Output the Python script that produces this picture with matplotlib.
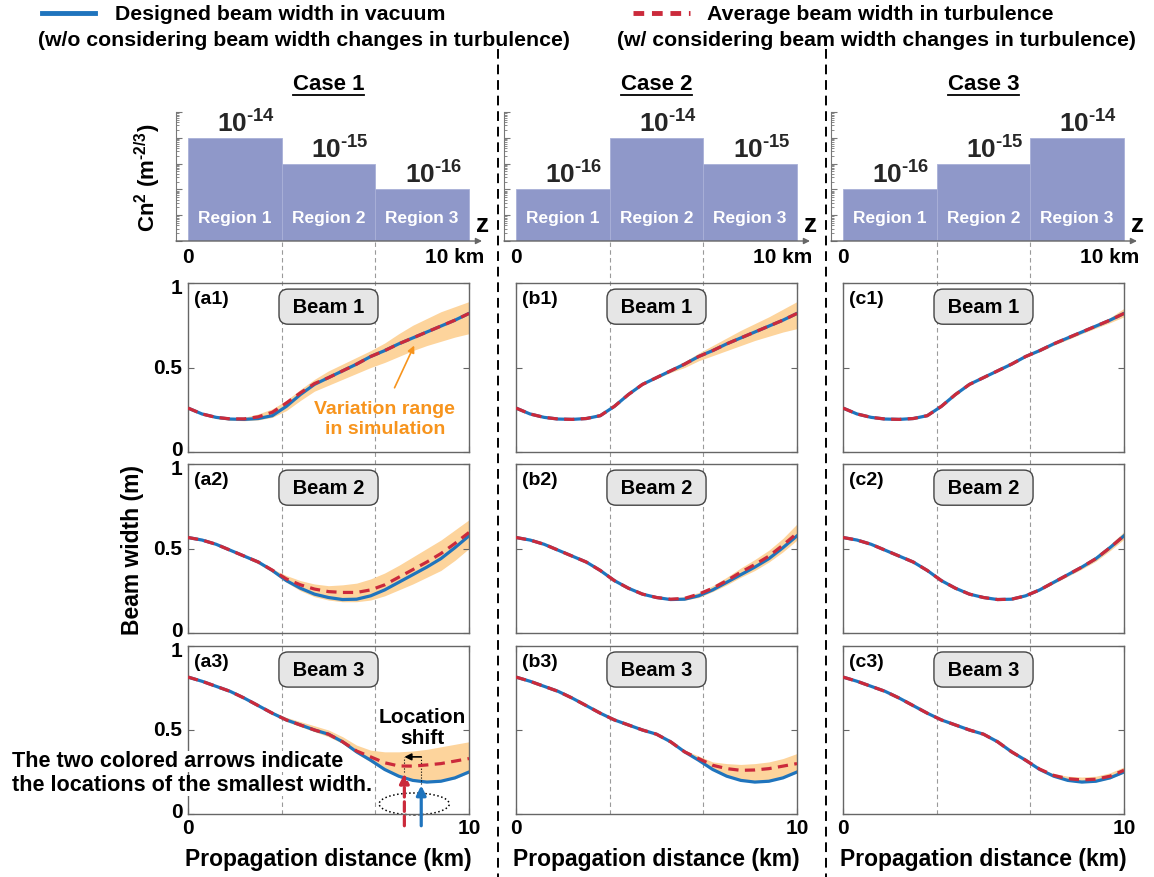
import matplotlib
matplotlib.use('Agg')
import matplotlib.pyplot as plt
from matplotlib.lines import Line2D
from matplotlib.patches import Ellipse
from matplotlib import transforms
from matplotlib.ticker import LogLocator, NullFormatter

plt.rcParams['font.family'] = ['Liberation Sans', 'DejaVu Sans']
plt.rcParams['font.weight'] = 'bold'
plt.rcParams['mathtext.fontset'] = 'custom'
plt.rcParams['mathtext.rm'] = 'Liberation Sans:bold'
plt.rcParams['mathtext.bf'] = 'Liberation Sans:bold'
plt.rcParams['mathtext.it'] = 'Liberation Sans:bold'
plt.rcParams['mathtext.default'] = 'bf'

# ---------------- data ----------------
cases = ['Case 1', 'Case 2', 'Case 3']
regions = ['Region 1', 'Region 2', 'Region 3']
region_start = [0, 10 / 3, 20 / 3]
cn2_case1 = [1e-14, 1e-15, 1e-16]
cn2_case2 = [1e-16, 1e-14, 1e-15]
cn2_case3 = [1e-16, 1e-15, 1e-14]
cn2_exp1 = ['-14', '-15', '-16']
cn2_exp2 = ['-16', '-14', '-15']
cn2_exp3 = ['-16', '-15', '-14']
yticks = [0, 0.5, 1]
ytick_labels = ['0', '0.5', '1']

z = [0, 0.5, 1, 1.5, 2, 2.5, 3, 3.5, 4, 4.5, 5, 5.5, 6, 6.5, 7, 7.5, 8, 8.5, 9, 9.5, 10]

# designed width in vacuum (same for every case)
vac1 = [.26, .225, .205, .195, .193, .198, .215, .27, .34, .40, .44, .48, .52, .565, .60, .64, .675, .71, .745, .78, .82]
vac2 = [.565, .55, .525, .49, .455, .42, .37, .31, .265, .23, .21, .198, .20, .22, .255, .30, .345, .39, .44, .505, .575]
vac3 = [.815, .79, .76, .73, .69, .645, .60, .56, .53, .50, .475, .43, .37, .32, .265, .225, .20, .19, .195, .215, .25]

# average width in turbulence
t_a1 = [.26, .225, .205, .196, .196, .208, .235, .29, .35, .405, .44, .48, .52, .565, .60, .64, .675, .71, .745, .78, .82]
t_a2 = [.565, .55, .525, .49, .455, .42, .372, .32, .285, .26, .245, .24, .24, .255, .285, .33, .375, .42, .47, .53, .595]
t_a3 = [.815, .79, .76, .73, .69, .645, .60, .56, .53, .50, .475, .43, .375, .34, .305, .286, .285, .292, .30, .315, .33]
t_b1 = vac1
t_b2 = [.565, .55, .525, .49, .455, .42, .37, .31, .265, .23, .21, .20, .205, .23, .265, .31, .36, .405, .455, .52, .59]
t_b3 = [.815, .79, .76, .73, .69, .645, .60, .56, .53, .50, .475, .43, .37, .33, .29, .27, .26, .262, .27, .285, .30]
t_c1 = vac1
t_c2 = vac2
t_c3 = [.815, .79, .76, .73, .69, .645, .60, .56, .53, .50, .475, .43, .37, .32, .267, .23, .21, .203, .207, .225, .26]

# variation range in simulation (low / high)
lo_a1 = [.255, .22, .198, .188, .185, .19, .205, .245, .305, .36, .395, .43, .465, .50, .53, .565, .60, .63, .655, .68, .70]
hi_a1 = [.265, .228, .21, .20, .205, .225, .255, .305, .37, .43, .48, .52, .56, .60, .645, .70, .75, .79, .83, .86, .89]
lo_a2 = [.565, .548, .52, .485, .448, .41, .36, .30, .25, .215, .195, .185, .185, .195, .22, .255, .29, .33, .37, .43, .50]
hi_a2 = [.565, .552, .53, .495, .462, .43, .38, .34, .31, .29, .28, .285, .295, .32, .355, .40, .45, .50, .55, .61, .67]
lo_a3 = [.815, .79, .758, .727, .686, .64, .595, .55, .52, .49, .46, .42, .36, .31, .26, .22, .195, .188, .195, .21, .245]
hi_a3 = [.815, .79, .762, .735, .695, .652, .61, .575, .55, .525, .50, .46, .41, .38, .37, .37, .375, .385, .40, .415, .43]
lo_b1 = [.26, .225, .205, .195, .193, .198, .215, .27, .34, .398, .435, .47, .50, .54, .57, .60, .63, .66, .685, .71, .73]
hi_b1 = [.26, .225, .205, .195, .193, .198, .215, .27, .34, .402, .45, .49, .535, .585, .63, .675, .72, .76, .80, .845, .89]
lo_b2 = [.565, .55, .525, .49, .455, .42, .37, .31, .265, .228, .207, .195, .195, .21, .245, .285, .33, .37, .42, .48, .55]
hi_b2 = [.565, .55, .525, .49, .455, .42, .37, .31, .265, .232, .215, .205, .215, .24, .28, .33, .385, .435, .49, .56, .645]
lo_b3 = [.815, .79, .76, .73, .69, .645, .60, .56, .53, .50, .475, .43, .368, .318, .265, .225, .20, .19, .195, .213, .245]
hi_b3 = [.815, .79, .76, .73, .69, .645, .60, .56, .53, .50, .475, .432, .38, .345, .31, .30, .295, .30, .31, .33, .36]
lo_c1 = [.26, .225, .205, .195, .193, .198, .215, .27, .34, .40, .44, .48, .517, .56, .594, .632, .665, .70, .733, .765, .80]
hi_c1 = [.26, .225, .205, .195, .193, .198, .215, .27, .34, .40, .44, .48, .523, .57, .606, .648, .685, .72, .757, .795, .85]
lo_c2 = [.565, .55, .525, .49, .455, .42, .37, .31, .265, .23, .21, .198, .20, .218, .25, .293, .335, .378, .425, .487, .555]
hi_c2 = [.565, .55, .525, .49, .455, .42, .37, .31, .265, .23, .21, .198, .20, .222, .26, .307, .355, .402, .455, .523, .60]
lo_c3 = [.815, .79, .76, .73, .69, .645, .60, .56, .53, .50, .475, .43, .37, .32, .263, .222, .197, .187, .192, .21, .245]
hi_c3 = [.815, .79, .76, .73, .69, .645, .60, .56, .53, .50, .475, .43, .37, .322, .27, .24, .225, .22, .225, .245, .28]

vac = [vac1, vac2, vac3]
cn2 = [cn2_case1, cn2_case2, cn2_case3]
cn2_exp = [cn2_exp1, cn2_exp2, cn2_exp3]
turb = [[t_a1, t_a2, t_a3], [t_b1, t_b2, t_b3], [t_c1, t_c2, t_c3]]
band_lo = [[lo_a1, lo_a2, lo_a3], [lo_b1, lo_b2, lo_b3], [lo_c1, lo_c2, lo_c3]]
band_hi = [[hi_a1, hi_a2, hi_a3], [hi_b1, hi_b2, hi_b3], [hi_c1, hi_c2, hi_c3]]
panel_tags = [['(a1)', '(a2)', '(a3)'], ['(b1)', '(b2)', '(b3)'], ['(c1)', '(c2)', '(c3)']]

# ---------------- style ----------------
BLUE = '#1f74bd'
RED = '#cb2a3b'
BAND = '#fdd49c'
ORANGE = '#f7941d'
BAR = '#8f98c9'
SPINE = '#666666'
HYPHEN = '\u2010'

W, H = 1154, 878
fig = plt.figure(figsize=(W / 100, H / 100), dpi=100)


def rect(x0, y0, x1, y1):
    # pixel box -> figure fraction
    return [x0 / W, 1 - y1 / H, (x1 - x0) / W, (y1 - y0) / H]


col_x0 = [188, 516, 843]
col_w = 281
rows_y = [(284, 453), (465, 634), (647, 815)]
px_per_km = col_w / 10
# small vertical nudge (points) of the y tick labels so 0 and 1 of stacked panels don't collide
ylab_shift = [1.5, 0, -3]

for c in range(3):
    x0 = col_x0[c]

    # ---- Cn2 profile ----
    tl = x0 - 12
    tr = tl + 306
    axt = fig.add_axes(rect(tl, 113, tr, 242))
    axt.set_facecolor('none')
    axt.bar(region_start, cn2[c], width=10 / 3, align='edge', bottom=1e-18,
            color=BAR, edgecolor='#a9b0d8', linewidth=0.6)
    axt.set_yscale('log')
    axt.set_ylim(1e-18, 1e-13)
    axt.set_xlim(-12 / px_per_km, 10 + (tr - tl - 12 - col_w) / px_per_km)
    axt.yaxis.set_major_locator(LogLocator(base=10, numticks=20))
    axt.yaxis.set_minor_locator(LogLocator(base=10, subs=[2, 3, 4, 5, 6, 7, 8, 9], numticks=100))
    axt.yaxis.set_minor_formatter(NullFormatter())
    for s in ['top', 'right', 'bottom']:
        axt.spines[s].set_visible(False)
    axt.spines['left'].set_color('#777777')
    axt.set_xticks([])
    axt.tick_params(axis='y', which='both', direction='in', colors='#777777',
                    labelleft=False)
    axt.tick_params(axis='y', which='major', length=4)
    axt.tick_params(axis='y', which='minor', length=2, width=0.6)
    axt.annotate('', xy=(1, 0), xytext=(0, 0), xycoords='axes fraction',
                 arrowprops=dict(arrowstyle='-|>', color='#666666', lw=1,
                                 mutation_scale=9, shrinkA=0, shrinkB=0))
    for k in range(3):
        xc = region_start[k] + 5 / 3
        axt.text(xc, 8e-18, regions[k], color='white', fontsize=12.5,
                 ha='center', va='center')
        lab = '$10^{\\mathrm{%s}}$' % cn2_exp[c][k].replace('-', HYPHEN)
        axt.annotate(lab, xy=(xc + 0.4, cn2[c][k]), xytext=(0, 1),
                     textcoords='offset points', ha='center', va='bottom',
                     fontsize=19, color='#262626')
    bt = transforms.blended_transform_factory(axt.transData, axt.transAxes)
    axt.text(0, -0.05, '0', transform=bt, ha='center', va='top', fontsize=15)
    axt.text(10.55, -0.05, '10 km', transform=bt, ha='right', va='top', fontsize=15)
    axt.text(10.48, 0.13, 'z', transform=bt, ha='center', va='center', fontsize=19)

    # ---- beam width panels ----
    for r in range(3):
        y0, y1 = rows_y[r]
        ax = fig.add_axes(rect(x0, y0, x0 + col_w, y1))
        ax.set_facecolor('none')
        ax.fill_between(z, band_lo[c][r], band_hi[c][r], color=BAND, lw=0, zorder=1)
        ax.plot(z, vac[r], color=BLUE, lw=2.3, zorder=2)
        ax.plot(z, turb[c][r], color=RED, lw=2.3, ls=(0, (3.2, 2)), zorder=3)
        ax.set_xlim(0, 10)
        ax.set_ylim(0, 1)
        ax.set_xticks([0, 10])
        ax.set_yticks(yticks)
        ax.set_xticklabels(['0', '10'])
        ax.tick_params(direction='in', length=4, colors=SPINE, labelcolor='black',
                       labelsize=15, right=True, top=True, pad=3,
                       labelleft=False, labelbottom=(r == 2))
        if c == 0:
            for yv, ys, dy in zip(yticks, ytick_labels, ylab_shift):
                off = transforms.ScaledTranslation(-4 / 72, dy / 72, fig.dpi_scale_trans)
                ax.text(0, yv, ys, transform=ax.transData + off, ha='right',
                        va='center', fontsize=15)
        for s in ax.spines.values():
            s.set_color(SPINE)
            s.set_linewidth(1)
        ax.text(0.02, 0.96, panel_tags[c][r], transform=ax.transAxes,
                ha='left', va='top', fontsize=14)
        ax.text(5, 0.86, ' Beam %d ' % (r + 1), ha='center', va='center', fontsize=14.5,
                zorder=5, bbox=dict(boxstyle='round,pad=0.4,rounding_size=0.45',
                                    fc='#e6e6e6', ec='#444444', lw=1))

        if c == 0 and r == 0:
            ax.text(7.0, 0.2, 'Variation range\nin simulation', color=ORANGE,
                    fontsize=14, ha='center', va='center', linespacing=1.25)
            ax.annotate('', xy=(8.05, 0.63), xytext=(7.35, 0.38),
                        arrowprops=dict(arrowstyle='-|>', color=ORANGE, lw=1.2,
                                        mutation_scale=10, shrinkA=0, shrinkB=0))
        if c == 0 and r == 2:
            ax.annotate('', xy=(7.7, 0.24), xytext=(7.7, -0.07),
                        arrowprops=dict(arrowstyle='-|>', color=RED, lw=2.3,
                                        ls=(0, (3, 1.5)), mutation_scale=14,
                                        shrinkA=0, shrinkB=0), annotation_clip=False)
            ax.annotate('', xy=(8.3, 0.17), xytext=(8.3, -0.07),
                        arrowprops=dict(arrowstyle='-|>', color=BLUE, lw=2.3,
                                        mutation_scale=14, shrinkA=0, shrinkB=0),
                        annotation_clip=False)
            ax.plot([7.7, 7.7], [0.25, 0.34], color='black', lw=0.8, ls=':')
            ax.plot([8.3, 8.3], [0.18, 0.34], color='black', lw=0.8, ls=':')
            ax.annotate('', xy=(7.7, 0.34), xytext=(8.3, 0.34),
                        arrowprops=dict(arrowstyle='-|>', color='black', lw=1.2,
                                        mutation_scale=10, shrinkA=0, shrinkB=0))
            ax.add_patch(Ellipse((8.05, 0.06), 2.5, 0.13, fill=False, ec='black',
                                 lw=1.1, ls=':', clip_on=False))
            ax.text(8.35, 0.52, 'Location\nshift', ha='center', va='center',
                    fontsize=15, linespacing=1.15)

    # gray region boundaries running through all panels
    tr_b = transforms.blended_transform_factory(axt.transData, fig.transFigure)
    for zb in [10 / 3, 20 / 3]:
        fig.add_artist(Line2D([zb, zb], [1 - 243 / H, 1 - 815 / H], transform=tr_b,
                              color='#9a9a9a', lw=0.8, ls=(0, (4, 3)), zorder=-1))

    fig.text((x0 + col_w / 2) / W, 1 - 860 / H, 'Propagation distance (km)',
             ha='center', va='center', fontsize=16.5)

# case titles with underline
case_txt = []
for c in range(3):
    t = fig.text((col_x0[c] + col_w / 2) / W, 1 - 84 / H, cases[c], ha='center',
                 va='center', fontsize=16)
    case_txt.append(t)

# column separators
for xs in [498, 826]:
    fig.add_artist(Line2D([xs / W, xs / W], [1 - 50 / H, 0], color='black', lw=1.4,
                          ls=(0, (5, 3))))

# axis labels
fig.text(132 / W, 1 - 550 / H, 'Beam width (m)', rotation=90, ha='center',
         va='center', fontsize=16.5)
fig.text(148 / W, 1 - 178 / H, 'Cn$^2$ (m$^{\\mathrm{' + HYPHEN + '2/3}}$)', rotation=90,
         ha='center', va='center', fontsize=16)

# note about the arrows (one box per line so the curve stays visible)
fig.text(12 / W, 1 - 762 / H, 'The two colored arrows indicate',
         ha='left', va='center', fontsize=15.6, zorder=10,
         bbox=dict(fc='white', ec='none', pad=0))
fig.text(12 / W, 1 - 786 / H, 'the locations of the smallest width.',
         ha='left', va='center', fontsize=15.6, zorder=10,
         bbox=dict(fc='white', ec='none', pad=0))

# legend at the top
fig.add_artist(Line2D([42 / W, 95 / W], [1 - 14 / H, 1 - 14 / H], color=BLUE, lw=3.5))
fig.add_artist(Line2D([633 / W, 690 / W], [1 - 14 / H, 1 - 14 / H], color=RED, lw=3.5,
                      ls=(0, (2.2, 1.6))))
fig.text(115 / W, 1 - 15 / H, 'Designed beam width in vacuum', ha='left',
         va='center', fontsize=15.3)
fig.text(38 / W, 1 - 41 / H, '(w/o considering beam width changes in turbulence)',
         ha='left', va='center', fontsize=15.3)
fig.text(707 / W, 1 - 15 / H, 'Average beam width in turbulence', ha='left',
         va='center', fontsize=15.3)
fig.text(617 / W, 1 - 41 / H, '(w/ considering beam width changes in turbulence)',
         ha='left', va='center', fontsize=15.3)

fig.canvas.draw()
for t in case_txt:
    bb = t.get_window_extent().transformed(fig.transFigure.inverted())
    fig.add_artist(Line2D([bb.x0, bb.x1], [bb.y0 - 1 / H, bb.y0 - 1 / H],
                          color='black', lw=1.3))

fig.savefig('out.png', dpi=100)
